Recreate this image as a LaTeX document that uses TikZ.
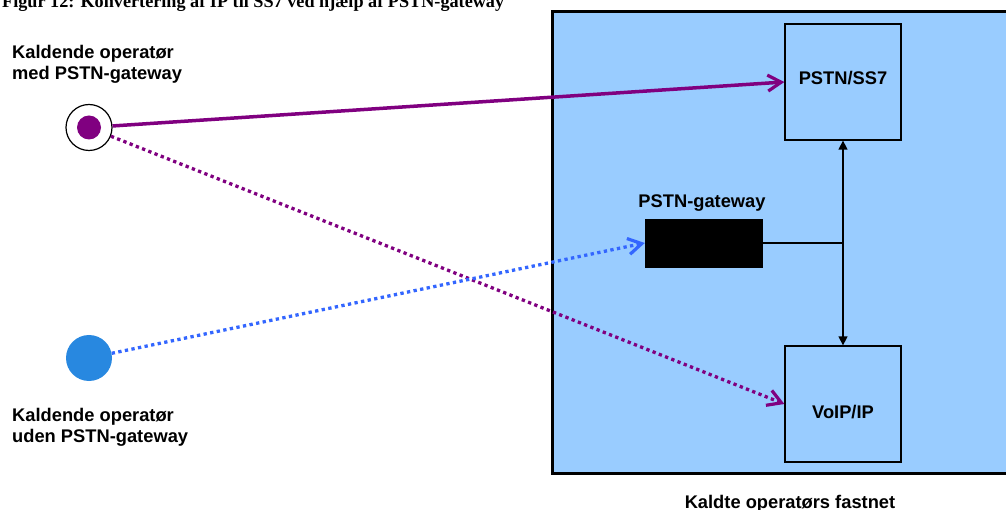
\documentclass[tikz,border=0pt]{standalone}
\usepackage{fontspec}
\setmainfont{Liberation Sans}
\newfontfamily\titlefont{Liberation Serif}
\usetikzlibrary{arrows.meta}
\definecolor{netfill}{HTML}{99CCFF}
\definecolor{callpurple}{HTML}{800080}
\definecolor{dotblue}{HTML}{3366FF}
\definecolor{opblue}{HTML}{2888E0}
\tikzset{
  lbl/.style={inner sep=0pt, font=\fontsize{18.3}{22}\selectfont\bfseries},
  boxnode/.style={draw=black, line width=1.3pt, fill=netfill, minimum width=116pt, minimum height=116pt, inner sep=0pt, font=\fontsize{18.3}{22}\selectfont\bfseries},
  barb/.style={-{Straight Barb[length=13.5pt,width=16pt,line width=3.2pt]}},
  solidcall/.style={draw=callpurple, line width=3.5pt, barb},
  dotcall/.style={line width=3.3pt, dash pattern=on 3.3pt off 3.4pt, barb},
  tri/.style={{Triangle[length=9pt,width=9pt]}-{Triangle[length=9pt,width=9pt]}}
}
\begin{document}
\begin{tikzpicture}[x=1pt,y=-1pt]
\useasboundingbox (0,0) rectangle (1006,510);
% title
\node[lbl, anchor=base west] (title) at (2,7.5) {\titlefont\fontsize{18.2}{22}\selectfont\bfseries Figur 12: Konvertering af IP til SS7 ved hjælp af PSTN-gateway};
% network area
\draw[line width=3pt, fill=netfill] (552,12) rectangle (1015,473);
\node[lbl, anchor=base] (netlbl) at (790,508) {Kaldte operatørs fastnet};
% boxes
\node[boxnode, text height=13pt, text depth=7pt] (ss7) at (843,82) {PSTN/SS7};
\node[boxnode, text height=30pt, text depth=2pt] (voip) at (843,404) {VoIP/IP};
\node[fill=black, draw=black, minimum width=117pt, minimum height=48pt, inner sep=0pt] (gw) at (703.5,243) {};
\node[lbl, anchor=base] (gwlbl) at (702,208) {PSTN-gateway};
% internal connectors
\draw[line width=1.4pt, tri] (ss7.south) -- (voip.north);
\draw[line width=1.4pt] (gw.east) -- (gw.east -| ss7.south);
% calling operators
\node[circle, draw=black, line width=1.2pt, fill=white, minimum size=46pt, inner sep=0pt] (c1) at (89,127.5) {};
\node[circle, fill=callpurple, minimum size=24pt, inner sep=0pt] (c1dot) at (c1.center) {};
\node[circle, fill=opblue, minimum size=46pt, inner sep=0pt] (c2) at (89,358) {};
\node[lbl, anchor=base west] (l1a) at (12,59) {Kaldende operatør};
\node[lbl, anchor=base west] (l1b) at (12,80) {med PSTN-gateway};
\node[lbl, anchor=base west] (l2a) at (12,421) {Kaldende operatør};
\node[lbl, anchor=base west] (l2b) at (12,442) {uden PSTN-gateway};
% calls
\draw[solidcall] (c1) -- (ss7.west);
\draw[dotcall, draw=callpurple] (c1) -- (voip.west);
\draw[dotcall, draw=dotblue] (c2) -- (gw.west);
\end{tikzpicture}
\end{document}
